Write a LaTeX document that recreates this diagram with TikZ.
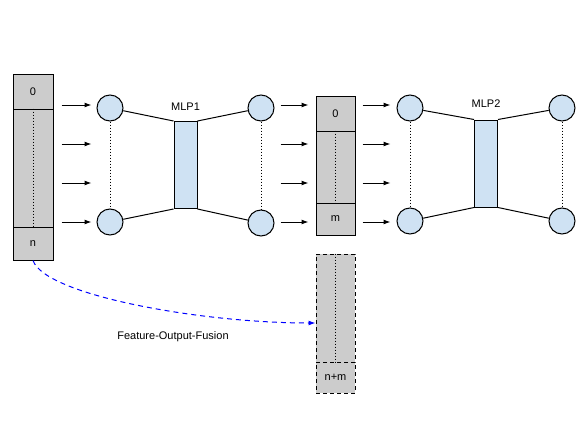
\documentclass[tikz,border=0pt]{standalone}
\usepackage{fontspec}
\setmainfont{Liberation Sans}
\usetikzlibrary{arrows.meta}
\definecolor{cellgray}{HTML}{CCCCCC}
\definecolor{nodeblue}{HTML}{CFE2F3}
\tikzset{
  cell/.style={draw, fill=cellgray, line width=1pt, minimum width=40pt, inner sep=0pt},
  dcell/.style={cell, dashed, dash pattern=on 4pt off 3pt},
  neuron/.style={circle, draw, fill=nodeblue, line width=1pt, minimum size=26pt, inner sep=0pt},
  layer/.style={draw, fill=nodeblue, line width=1pt, minimum width=23pt, minimum height=87pt, inner sep=0pt},
  arr/.style={line width=1pt, -{Latex[length=7pt,width=5pt]}},
  wire/.style={line width=1pt},
  dots/.style={line width=1pt, dash pattern=on 1pt off 2pt},
  lbl/.style={font=\fontsize{11}{13}\selectfont, inner sep=0pt}
}
\begin{document}
\begin{tikzpicture}[x=1pt,y=-1pt, every node/.append style={font=\fontsize{11}{13}\selectfont}]
\useasboundingbox (0,0) rectangle (581,436);
% left feature box
\node[cell, minimum height=34pt] (L0) at (33,92) {0};
\node[cell, minimum height=118pt] (Lm) at (33,168) {};
\node[cell, minimum height=33pt] (Ln) at (33,243.5) {n};
\draw[dots] (Lm.north) -- (Lm.south);
% MLP1
\node[neuron] (A1) at (110,108) {};
\node[neuron] (A2) at (110,222) {};
\node[layer] (H1) at (185.5,165) {};
\node[lbl] (T1) at (185.5,107) {MLP1};
\node[neuron] (B1) at (261,108) {};
\node[neuron] (B2) at (261,223) {};
\draw[dots] (A1) -- (A2);
\draw[dots] (B1) -- (B2);
\draw[wire] (A1) -- (H1.north west);
\draw[wire] (A2) -- (H1.south west);
\draw[wire] (H1.north east) -- (B1);
\draw[wire] (H1.south east) -- (B2);
% middle output box
\node[cell, minimum width=39pt, minimum height=35pt] (M0) at (335.5,113.5) {0};
\node[cell, minimum width=39pt, minimum height=72pt] (Mm) at (335.5,167) {};
\node[cell, minimum width=39pt, minimum height=32pt] (Mb) at (335.5,219) {m};
\draw[dots] (Mm.north) -- (Mm.south);
% MLP2
\node[neuron] (C1) at (410,108) {};
\node[neuron] (C2) at (410,221) {};
\node[layer] (H2) at (486,163.5) {};
\node[lbl] (T2) at (486,104) {MLP2};
\node[neuron] (D1) at (562,108) {};
\node[neuron] (D2) at (562,221) {};
\draw[dots] (C1) -- (C2);
\draw[dots] (D1) -- (D2);
\draw[wire] (C1) -- (H2.north west);
\draw[wire] (C2) -- (H2.south west);
\draw[wire] (H2.north east) -- (D1);
\draw[wire] (H2.south east) -- (D2);
% arrows
\foreach \yy in {105,144,183,222}{
  \draw[arr] ([xshift=8pt]Lm.east |- 0,\yy) -- ++(30,0);
  \draw[arr] ([xshift=6pt]B1.east |- 0,\yy) -- ++(28,0);
  \draw[arr] ([xshift=7pt]Mm.east |- 0,\yy) -- ++(28,0);
}
% fused box
\node[dcell, minimum width=39pt, minimum height=108pt] (F0) at (335.5,308) {};
\node[dcell, minimum width=39pt, minimum height=31pt] (F1) at (335.5,377.5) {n+m};
\draw[dots] (F0.north) -- (F0.south);
% fusion connector
\coordinate (Fin) at (F0.west |- 0,323);
\draw[blue, line width=1pt, dash pattern=on 5pt off 4pt, -{Latex[length=7pt,width=5pt]}]
  (Ln.south) .. controls (45,295) and (200,323) .. (Fin);
\node[lbl] (FL) at (173,337) {Feature-Output-Fusion};
\end{tikzpicture}
\end{document}
